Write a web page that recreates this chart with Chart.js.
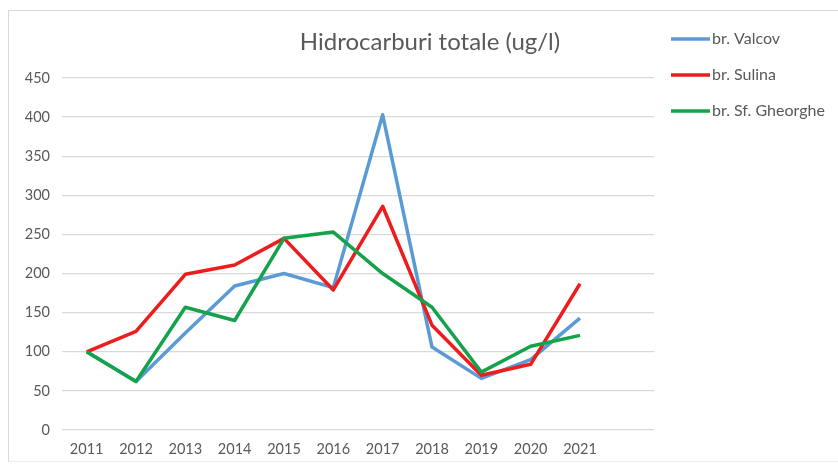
<!DOCTYPE html>
<html>
<head>
<meta charset="utf-8">
<script src="https://cdn.jsdelivr.net/npm/chart.js@4/dist/chart.umd.min.js"></script>
<style>
html,body{margin:0;padding:0;background:#fff;}
#wrap{position:relative;width:838px;height:465px;}
#frame{position:absolute;left:8px;top:10px;width:840px;height:452px;border-left:1.5px solid #d9d9d9;border-top:1.5px solid #d9d9d9;border-bottom:1px solid #eeeeee;box-sizing:border-box;}
canvas{position:absolute;left:0;top:0;}
</style>
</head>
<body>
<div id="wrap">
<div id="frame"></div>
<canvas id="c" width="838" height="465"></canvas>
</div>
<script>
const categories = ["2011","2012","2013","2014","2015","2016","2017","2018","2019","2020","2021",""];
const valcov = [100, 62, 124, 184, 200, 182, 403, 106, 66, 90, 143];
const sulina = [100, 126, 199, 211, 245, 179, 286, 134, 70, 84, 187];
const sfGheorghe = [100, 62, 157, 140, 245, 253, 200, 157, 74, 107, 121];
const seriesNames = ["br. Valcov", "br. Sulina", "br. Sf. Gheorghe"];
const yTicks = [0, 50, 100, 150, 200, 250, 300, 350, 400, 450];
const titleText = "Hidrocarburi totale (ug/l)";

const colors = ["#5b9bd5", "#ee1c1c", "#14a24a"];
const FONT = "Lato, 'Liberation Sans', sans-serif";

const customDraw = {
  id: 'customDraw',
  afterDraw(chart) {
    const ctx = chart.ctx;
    ctx.save();
    ctx.fillStyle = '#595959';
    ctx.font = '24px ' + FONT;
    ctx.textAlign = 'center';
    ctx.textBaseline = 'middle';
    ctx.fillText(titleText, 430, 42);
    const ys = [39, 75, 111];
    ctx.font = '16px ' + FONT;
    ctx.textAlign = 'left';
    chart.data.datasets.forEach((ds, i) => {
      ctx.strokeStyle = ds.borderColor;
      ctx.lineWidth = 3.5;
      ctx.beginPath();
      ctx.moveTo(671, ys[i]);
      ctx.lineTo(710, ys[i]);
      ctx.stroke();
      ctx.fillStyle = '#595959';
      ctx.fillText(ds.label, 712, ys[i]);
    });
    ctx.restore();
  }
};

new Chart(document.getElementById('c'), {
  type: 'line',
  data: {
    labels: categories,
    datasets: [
      {label: seriesNames[0], data: valcov, borderColor: colors[0], backgroundColor: colors[0], order: 3},
      {label: seriesNames[1], data: sulina, borderColor: colors[1], backgroundColor: colors[1], order: 2},
      {label: seriesNames[2], data: sfGheorghe, borderColor: colors[2], backgroundColor: colors[2], order: 1}
    ].map(d => Object.assign(d, {borderWidth: 3.5, pointRadius: 0, tension: 0, fill: false, borderJoinStyle: 'round'}))
  },
  options: {
    responsive: false,
    animation: false,
    layout: {padding: {left: 0, top: 78, right: 184, bottom: 0}},
    plugins: {legend: {display: false}, title: {display: false}, tooltip: {enabled: false}},
    scales: {
      x: {
        offset: true,
        grid: {display: false, drawTicks: false},
        border: {display: false},
        ticks: {color: '#595959', font: {family: FONT, size: 14.5}, padding: 11, maxRotation: 0, autoSkip: false},
        afterFit(s) { s.height = 35; }
      },
      y: {
        min: 0, max: 450,
        afterBuildTicks(s) { s.ticks = yTicks.map(v => ({value: v})); },
        grid: {color: '#d9d9d9', lineWidth: 1.3, drawTicks: false},
        border: {display: false},
        ticks: {color: '#595959', font: {family: FONT, size: 14.5}, padding: 12},
        afterFit(s) { s.width = 62; }
      }
    }
  },
  plugins: [customDraw]
});
</script>
</body>
</html>
